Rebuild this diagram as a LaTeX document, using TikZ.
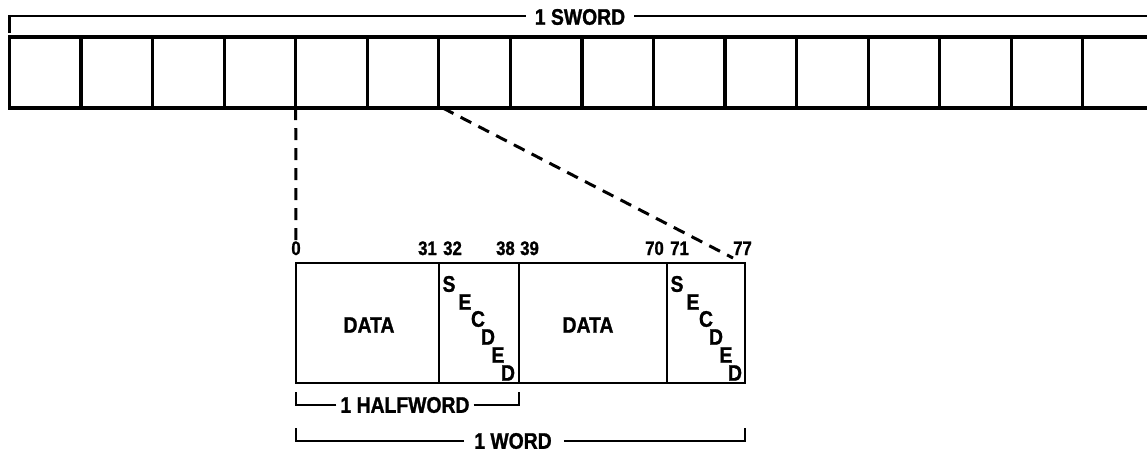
\documentclass[tikz,border=0pt]{standalone}
\usepackage{fontspec}
\setmainfont{Liberation Sans}[FakeStretch=0.86,BoldFeatures={FakeBold=1.2}]
\begin{document}
\begin{tikzpicture}[x=1pt,y=-1pt,
  cell/.style={draw, line width=3.2pt, minimum width=71.55pt, minimum height=71pt, inner sep=0pt, outer sep=0pt, anchor=north west},
  field/.style={draw, line width=2.8pt, minimum height=120pt, inner sep=0pt, outer sep=0pt, anchor=north west},
  lbl/.style={font=\bfseries\fontsize{22.5}{24}\selectfont, inner sep=0pt},
  num/.style={font=\bfseries\fontsize{19.5}{21}\selectfont, inner sep=0pt},
  brk/.style={line width=2.7pt},
  dsh/.style={line width=3pt, dash pattern=on 12pt off 8pt}]
\useasboundingbox (0,0) rectangle (1147,453);

% superword cells
\foreach \i in {0,...,14} \node[cell] (c\i) at ({9.5+71.55*\i},37) {};
\coordinate (rt) at (1147,37);
\coordinate (rb) at (1147,108);
\draw[line width=3.2pt] (c14.north east) -- (rt);
\draw[line width=3.2pt] (c14.south east) -- (rb);

% 1 SWORD bracket
\node[lbl] (sw) at (580,17) {1 SWORD};
\coordinate (tlb) at (9.5,33);
\coordinate (tl) at (9.5,16);
\coordinate (tr) at (1147,16);
\draw[brk] (tlb) -- (tl) -- ([xshift=-9pt]tl -| sw.west);
\draw[brk] ([xshift=9pt]tl -| sw.east) -- (tr);

% word fields
\node[field, minimum width=143pt] (f1) at (296,263) {};
\node[field, minimum width=80pt] (f2) at (f1.north east) {};
\node[field, minimum width=148pt] (f3) at (f2.north east) {};
\node[field, minimum width=78pt] (f4) at (f3.north east) {};

\node[lbl] (d1) at (369,325) {DATA};
\node[lbl] (d2) at (588,325) {DATA};

% SECDED staircases
\node[lbl] (sa1) at ([shift={(10,21)}]f2.north west) {S};
\node[lbl] (sa2) at ([shift={(26,39)}]f2.north west) {E};
\node[lbl] (sa3) at ([shift={(39,56)}]f2.north west) {C};
\node[lbl] (sa4) at ([shift={(49,74)}]f2.north west) {D};
\node[lbl] (sa5) at ([shift={(59,92)}]f2.north west) {E};
\node[lbl] (sa6) at ([shift={(69,110)}]f2.north west) {D};
\node[lbl] (sb1) at ([shift={(10,21)}]f4.north west) {S};
\node[lbl] (sb2) at ([shift={(26,39)}]f4.north west) {E};
\node[lbl] (sb3) at ([shift={(39,56)}]f4.north west) {C};
\node[lbl] (sb4) at ([shift={(49,74)}]f4.north west) {D};
\node[lbl] (sb5) at ([shift={(59,92)}]f4.north west) {E};
\node[lbl] (sb6) at ([shift={(68,110)}]f4.north west) {D};

% bit numbers
\node[num, anchor=base] (n0) at (296,255) {0};
\node[num, anchor=base east] (n31) at (437,255) {31};
\node[num, anchor=base west] (n32) at (443,255) {32};
\node[num, anchor=base east] (n38) at (515,255) {38};
\node[num, anchor=base west] (n39) at (520,255) {39};
\node[num, anchor=base east] (n70) at (664,255) {70};
\node[num, anchor=base west] (n71) at (670,255) {71};
\node[num, anchor=base east] (n77) at (752,255) {77};

% dashed expansion lines
\coordinate (dend) at (733,258);
\draw[dsh] (c4.south west) -- ([yshift=-3pt]n0.north);
\draw[dsh] ([xshift=4pt]c6.south west) -- (dend);

% halfword bracket
\node[lbl] (hw) at (405,405) {1 HALFWORD};
\coordinate (hL) at (296,392);
\coordinate (hR) at (519,392);
\draw[brk] ([xshift=-4pt]hw.west) -| (hL);
\draw[brk] ([xshift=4pt]hw.east) -| (hR);

% word bracket
\node[lbl] (wd) at (513,441) {1 WORD};
\coordinate (wL) at (296,428);
\coordinate (wR) at (745,428);
\draw[brk] ([xshift=-10pt]wd.west) -| (wL);
\draw[brk] ([xshift=12pt]wd.east) -| (wR);
\end{tikzpicture}
\end{document}
